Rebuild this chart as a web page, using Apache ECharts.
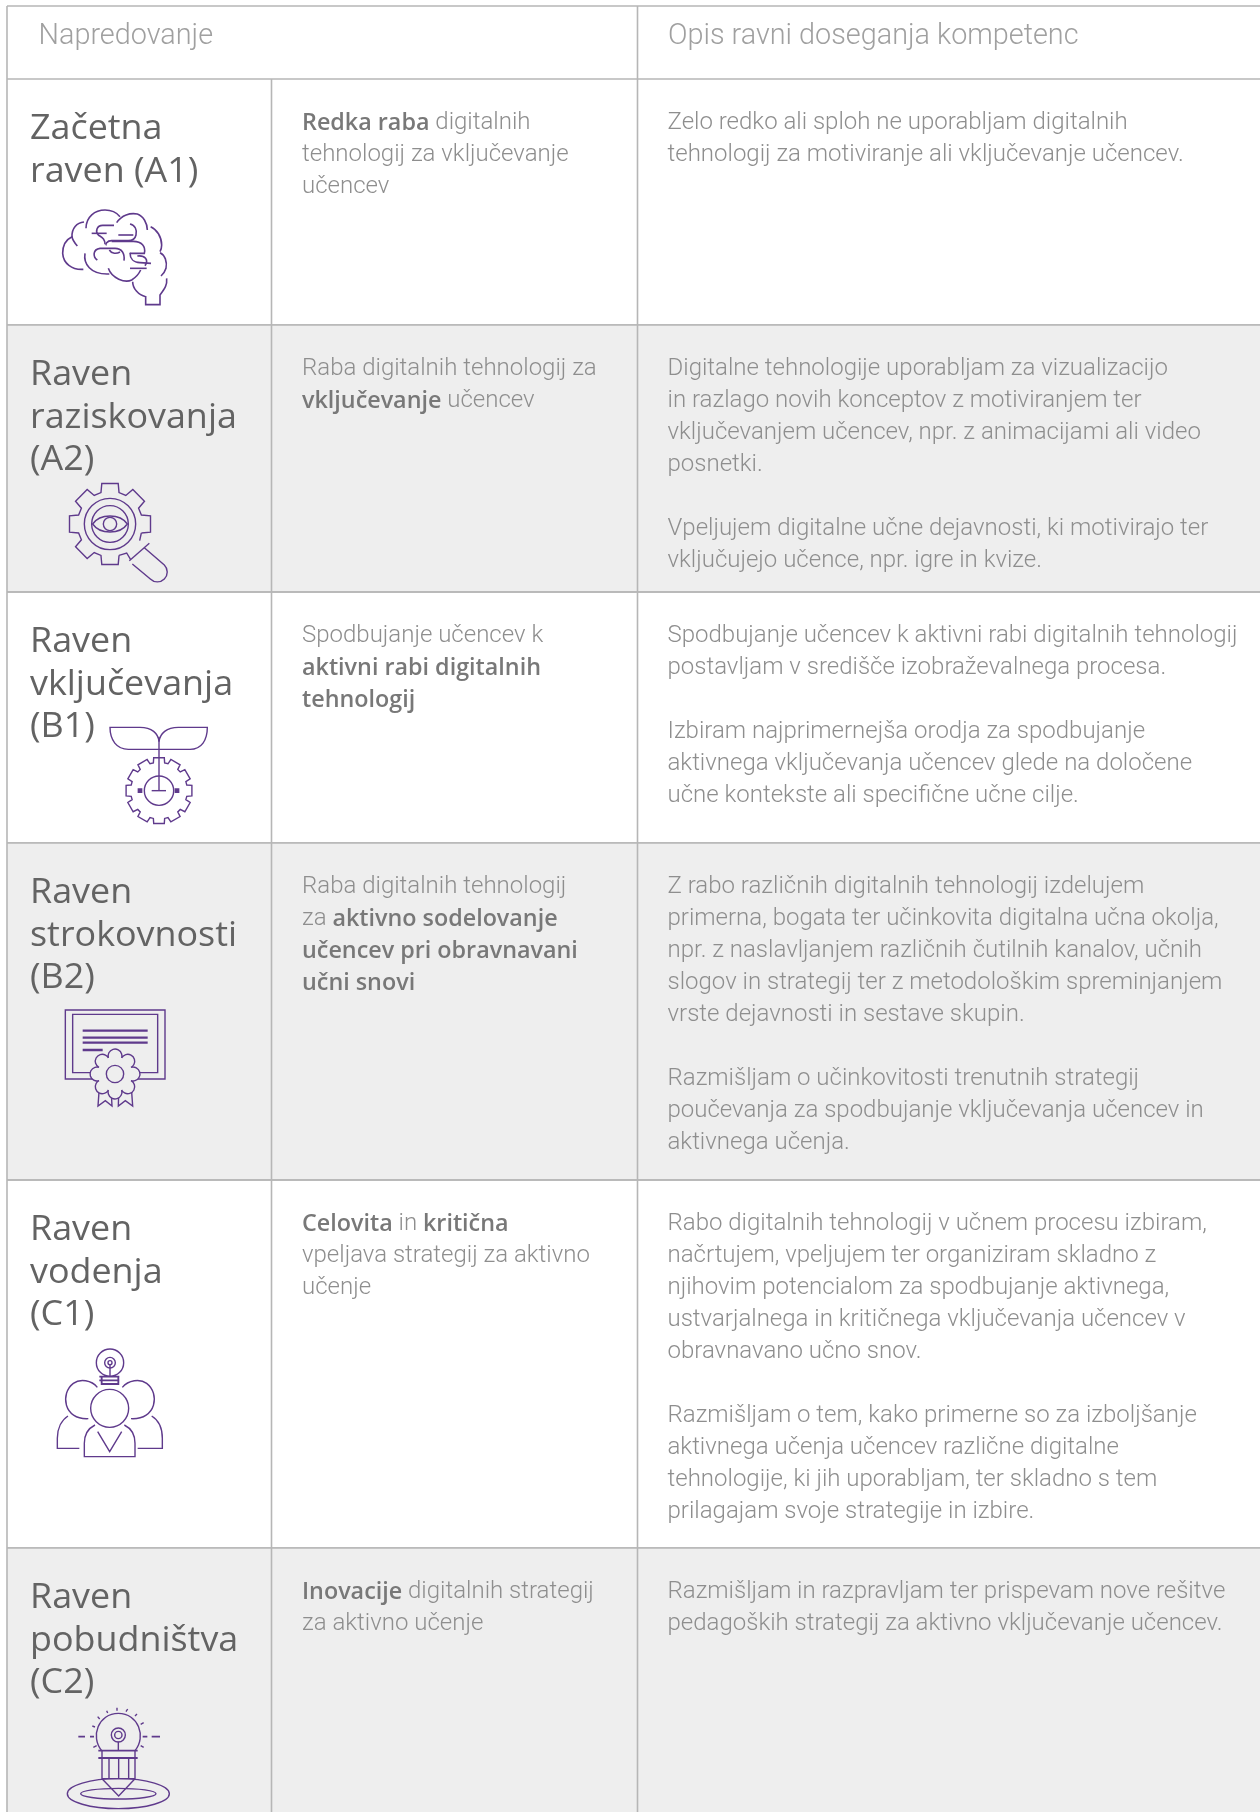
<!DOCTYPE html>
<html><head><meta charset="utf-8">
<script src="https://cdn.jsdelivr.net/npm/echarts@6/dist/echarts.min.js"></script>
<style>html,body{margin:0;padding:0;background:#fff}#c{width:1260px;height:1812px}</style>
</head><body><div id="c"></div>
<script>
const headers = ['Napredovanje', 'Opis ravni doseganja kompetenc'];
const levelNames = [
  ['Začetna', 'raven (A1)'],
  ['Raven', 'raziskovanja', '(A2)'],
  ['Raven', 'vključevanja', '(B1)'],
  ['Raven', 'strokovnosti', '(B2)'],
  ['Raven', 'vodenja', '(C1)'],
  ['Raven', 'pobudništva', '(C2)']
];
const summaries = [
  ['{b|Redka raba} digitalnih', 'tehnologij za vključevanje', 'učencev'],
  ['Raba digitalnih tehnologij za', '{b|vključevanje} učencev'],
  ['Spodbujanje učencev k', '{b|aktivni rabi digitalnih}', '{b|tehnologij}'],
  ['Raba digitalnih tehnologij', 'za {b|aktivno sodelovanje}', '{b|učencev pri obravnavani}', '{b|učni snovi}'],
  ['{b|Celovita} in {b|kritična}', 'vpeljava strategij za aktivno', 'učenje'],
  ['{b|Inovacije} digitalnih strategij', 'za aktivno učenje']
];
const descriptions = [
  ['Zelo redko ali sploh ne uporabljam digitalnih', 'tehnologij za motiviranje ali vključevanje učencev.'],
  ['Digitalne tehnologije uporabljam za vizualizacijo', 'in razlago novih konceptov z motiviranjem ter', 'vključevanjem učencev, npr. z animacijami ali video', 'posnetki.', '',
   'Vpeljujem digitalne učne dejavnosti, ki motivirajo ter', 'vključujejo učence, npr. igre in kvize.'],
  ['Spodbujanje učencev k aktivni rabi digitalnih tehnologij', 'postavljam v središče izobraževalnega procesa.', '',
   'Izbiram najprimernejša orodja za spodbujanje', 'aktivnega vključevanja učencev glede na določene', 'učne kontekste ali specifične učne cilje.'],
  ['Z rabo različnih digitalnih tehnologij izdelujem', 'primerna, bogata ter učinkovita digitalna učna okolja,', 'npr. z naslavljanjem različnih čutilnih kanalov, učnih', 'slogov in strategij ter z metodološkim spreminjanjem', 'vrste dejavnosti in sestave skupin.', '',
   'Razmišljam o učinkovitosti trenutnih strategij', 'poučevanja za spodbujanje vključevanja učencev in', 'aktivnega učenja.'],
  ['Rabo digitalnih tehnologij v učnem procesu izbiram,', 'načrtujem, vpeljujem ter organiziram skladno z', 'njihovim potencialom za spodbujanje aktivnega,', 'ustvarjalnega in kritičnega vključevanja učencev v', 'obravnavano učno snov.', '',
   'Razmišljam o tem, kako primerne so za izboljšanje', 'aktivnega učenja učencev različne digitalne', 'tehnologije, ki jih uporabljam, ter skladno s tem', 'prilagajam svoje strategije in izbire.'],
  ['Razmišljam in razpravljam ter prispevam nove rešitve', 'pedagoških strategij za aktivno vključevanje učencev.']
];
const rowEdges = [79, 325, 592, 843, 1180, 1548, 1812];
const iconOrigins = [[50, 200], [0, 320], [0, 600], [0, 850], [0, 1180], [0, 1540]];

const LINE = '#b6b6b6', SHADE = '#eeeeee', PURPLE = '#5f3a8c';
const COL0 = 7, COL1 = 271.5, COL2 = 637.5, W = 1260;
const BODY = 'Roboto', TITLE = '"Open Sans"';
const BODY_SCALE = 0.98, HEAD_SCALE = 0.96, TITLE_SCALE = 1.04;

function gear(cx, cy, rOut, rIn, n, halfOut, halfIn, phase, skip) {
  const step = Math.PI * 2 / n; let d = '', first = true;
  const pt = (r, a) => (cx + r * Math.cos(a)).toFixed(1) + ',' + (cy + r * Math.sin(a)).toFixed(1);
  const start = skip == null ? 0 : skip + 1, count = skip == null ? n : n - 1;
  for (let k = 0; k < count; k++) {
    const a = phase + (start + k) * step;
    for (const [r, o] of [[rIn, -halfIn], [rOut, -halfOut], [rOut, halfOut], [rIn, halfIn]]) {
      d += (first ? 'M' : 'L') + pt(r, a + o); first = false;
    }
  }
  return d + (skip == null ? 'Z' : '');
}
function circle(cx, cy, r) { return `M${cx - r},${cy}A${r},${r} 0 1 1 ${cx + r},${cy}A${r},${r} 0 1 1 ${cx - r},${cy}Z`; }
function rosette(cx, cy, R, n) {
  let d = '';
  for (let k = 0; k <= n; k++) {
    const a = -Math.PI / 2 - Math.PI / n + k * 2 * Math.PI / n;
    const x = (cx + R * Math.cos(a)).toFixed(1), y = (cy + R * Math.sin(a)).toFixed(1);
    d += k === 0 ? `M${x},${y}` : `A${R * 0.4},${R * 0.4} 0 1 1 ${x},${y}`;
  }
  return d + 'Z';
}

const iconPaths = [
  [['M108,85C108,50 135,30 165,30C185,30 200,38 210,50'],
   ['M200,68C215,45 240,38 262,42C280,48 292,70 292,90'],
   ['M302,80C320,88 335,110 335,135C335,145 333,150 330,155'],
   ['M330,158C345,165 352,185 348,205C345,215 340,222 333,228'],
   ['M350,235C352,255 345,265 330,285L330,314L287,314L287,290C265,285 248,265 248,245'],
   ['M102,66C80,68 65,85 66,110C67,120 75,130 82,138'],
   ['M66,110C45,120 38,140 38,160C40,190 65,210 100,208'],
   ['M105,160C100,190 120,225 178,222'],
   ['M175,205C185,235 225,250 245,240C258,232 265,225 272,210'],
   ['M125,100L170,100'],
   ['M192,76L158,76C140,76 135,95 145,105C155,112 165,115 165,133'],
   ['M205,105L250,105'],
   ['M240,72C255,75 262,90 258,105C255,118 245,122 235,122L185,122C170,122 165,135 170,135'],
   ['M185,124L250,124C275,124 288,140 283,160L240,160'],
   ['M142,180C128,170 128,148 150,145L195,145C215,145 225,160 222,182'],
   ['M178,150C185,162 200,162 210,156'],
   ['M240,158C240,175 250,188 270,188L303,190'],
   ['M262,168C285,165 297,180 285,197'],
   ['M240,205L290,205']],
  [[gear(330, 612, 124, 98, 8, 0.2, 0.28, -Math.PI / 2, 3)],
   ['M424,639L419,662M357,706L380,699L392,719'],
   [circle(330, 612, 77)], [circle(330, 612, 55)], [circle(330, 612, 20)],
   ['M278,612C300,580 360,580 382,612C360,644 300,644 278,612Z'],
   ['M388,722L448,670'], ['M397,732L451,777A29,29 0 0 0 493,735L433,683']],
  [['M477,425C475,400 455,382 420,382L330,382C330,420 350,448 385,448L570,448C605,448 622,420 622,382L535,382C500,382 480,400 477,425'],
   ['M477,410L477,572'], ['M455,572L498,572'],
   [gear(477, 572, 100, 85, 12, 0.16, 0.2, -Math.PI / 2)], [circle(477, 572, 44)],
   ['M415,567h10v10h-10zM526,567h10v10h-10z', true]],
  [['M196,480H495V687H196Z'], ['M218,493H473V668H218Z'],
   ['M248,542H443M248,563H443M248,578H443M248,600H308', false, 7],
   ['M298,712L294,768L316,752L336,768L334,730'], ['M356,730L355,768L376,752L398,768L394,712'],
   [rosette(345, 672, 52, 8), 'bg'], [circle(345, 672, 26)]],
  [[circle(330, 548, 41)], [circle(330, 548, 16)], [circle(330, 548, 6)], ['M330,555L330,590'],
   ['M298,590H358M298,601H358M305,590V612H355V590', false, 5.5],
   ['M292,622C275,600 240,595 220,610C180,640 190,720 265,716'],
   ['M367,622C385,600 420,595 440,610C480,640 470,720 393,716'],
   [circle(329, 685, 57)],
   ['M285,735C265,745 253,760 253,790L253,830L405,830L405,790C405,760 393,745 373,735'],
   ['M293,755L329,815L365,755'],
   ['M204,708C185,720 172,745 172,775L172,805L238,805'],
   ['M455,708C475,720 487,745 487,775L487,805L413,805']],
  [['M305,632C270,590 295,520 355,520C415,520 440,590 405,632'],
   [circle(355, 585, 21)], [circle(355, 585, 11)], ['M355,605L355,632'],
   ['M295,632H413M295,654H413', false, 5.5],
   ['M306,632V716H405V632M327,654V716M356,654V716M386,654V716'],
   ['M306,716L356,768L405,716'],
   ['M202,761A153,45 0 1 1 508,761A153,45 0 1 1 202,761Z'],
   ['M242,761A113,16 0 1 1 468,761A113,16 0 1 1 242,761Z'],
   ['M235,590H255M270,590H282M428,590H442M455,590H480', false, 5.5],
   ['M351,503V512M320,512L323,519M293,530L299,537M277,558L285,561M280,622L290,617M378,515L383,507M405,528L411,522M422,553L431,548M422,617L431,622']]
];

function textEl(x, y, text, scale, style) {
  return { type: 'text', x, y, scaleX: scale, silent: true,
    style: Object.assign({ text, align: 'left', verticalAlign: 'middle' }, style) };
}
function lineEl(x1, y1, x2, y2) {
  return { type: 'line', silent: true, shape: { x1, y1, x2, y2 }, style: { stroke: LINE, lineWidth: 1.6 } };
}
function bodyStyle() {
  return { fontFamily: BODY, fontWeight: 300, fontSize: 24.5, fill: '#8e8e8e',
    rich: { b: { fontFamily: '"Open Sans"', fontWeight: 600, fontSize: 23.8, fill: '#787878' } } };
}
const headStyle = { fontFamily: BODY, fontWeight: 300, fontSize: 30, fill: '#a0a0a0' };

function renderHeader() {
  return { type: 'group', children: [
    lineEl(COL0, 6, W, 6), lineEl(COL0, 6, COL0, 79), lineEl(COL2, 6, COL2, 79), lineEl(COL0, 79, W, 79),
    textEl(38.5, 36.5, headers[0], HEAD_SCALE, headStyle),
    textEl(668, 36.5, headers[1], HEAD_SCALE, headStyle)
  ] };
}
function renderRow(i) {
  const top = rowEdges[i], bottom = rowEdges[i + 1], ch = [];
  if (i % 2 === 1) ch.push({ type: 'rect', silent: true, shape: { x: COL0, y: top, width: W - COL0, height: bottom - top }, style: { fill: SHADE } });
  ch.push(lineEl(COL0, top, COL0, bottom), lineEl(COL1, top, COL1, bottom), lineEl(COL2, top, COL2, bottom));
  if (i < levelNames.length - 1) ch.push(lineEl(COL0, bottom, W, bottom));
  if (i > 0) ch.push(lineEl(COL0, top, W, top));
  levelNames[i].forEach((t, k) => ch.push(textEl(30, top + 50.5 + k * 42.4, t, TITLE_SCALE,
    { fontFamily: TITLE, fontSize: 34.5, fontWeight: 400, fill: '#636363' })));
  summaries[i].forEach((t, k) => ch.push(textEl(302, top + 44 + k * 32, t, BODY_SCALE, bodyStyle())));
  descriptions[i].forEach((t, k) => { if (t) ch.push(textEl(667.5, top + 44 + k * 32, t, BODY_SCALE, bodyStyle())); });
  const [ox, oy] = iconOrigins[i];
  const bg = i % 2 === 1 ? SHADE : '#ffffff';
  ch.push({ type: 'group', x: ox, y: oy, scaleX: 1 / 3, scaleY: 1 / 3, silent: true,
    children: iconPaths[i].map(p => ({ type: 'path', silent: true, shape: { pathData: p[0] },
      style: { stroke: PURPLE, lineWidth: p[2] || (i === 0 ? 4.8 : 4.2), lineJoin: 'miter', fill: p[1] === true ? PURPLE : p[1] === 'bg' ? bg : 'none' } })) });
  return { type: 'group', children: ch };
}

const chart = echarts.init(document.getElementById('c'), null, { renderer: 'canvas' });
chart.setOption({
  animation: false,
  backgroundColor: '#ffffff',
  series: [{
    type: 'custom', coordinateSystem: 'none', silent: true, clip: false,
    data: [-1].concat(levelNames.map((_, i) => i)),
    renderItem: (params, api) => { const i = api.value(0); return i < 0 ? renderHeader() : renderRow(i); }
  }]
});
</script></body></html>
